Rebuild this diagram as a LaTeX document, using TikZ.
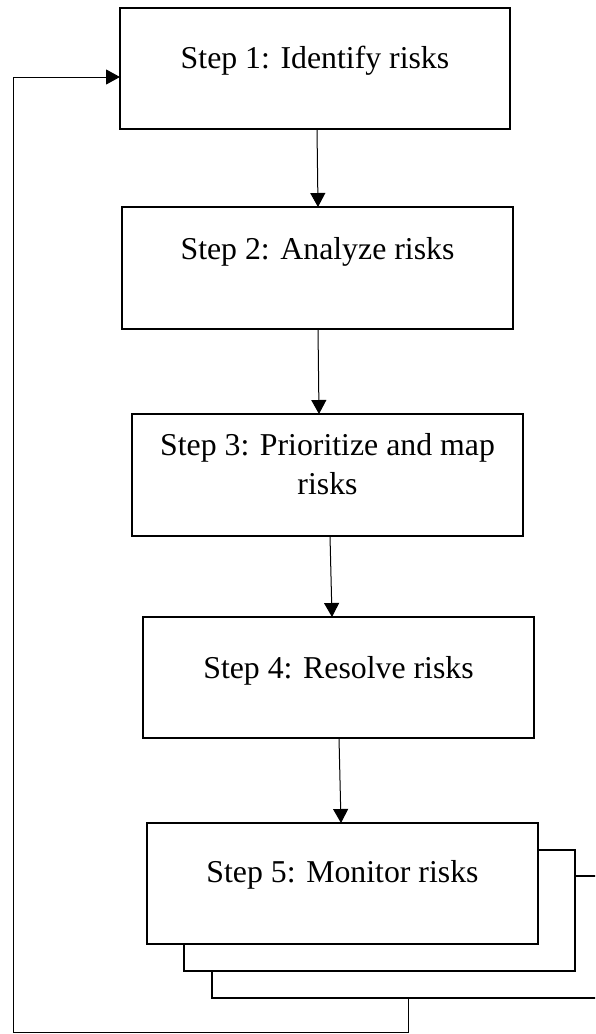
\documentclass[tikz,border=0pt]{standalone}
\usepackage{fontspec}
\setmainfont{Liberation Serif}
\usetikzlibrary{arrows.meta}
\begin{document}
\begin{tikzpicture}[x=1pt,y=-1pt,
  stepbox/.style={draw, line width=2.2pt, fill=white, inner sep=0pt, outer sep=0pt,
    minimum width=391pt, minimum height=121pt},
  shadowbox/.style={draw, line width=2pt, fill=white, inner sep=0pt, outer sep=0pt,
    minimum width=391pt, minimum height=121pt},
  steptext/.style={anchor=base, inner sep=0pt, font=\fontsize{31.8}{38}\selectfont},
  flow/.style={line width=1pt, -{Triangle[length=14pt,width=15pt]}},
  loopline/.style={line width=1pt}
]
\useasboundingbox (0,0) rectangle (595,1034);
\clip (0,0) rectangle (595,1034);
\fill[white] (0,0) rectangle (595,1034);

% main boxes
\node[stepbox, minimum width=390pt] (b1) at (315,68.5) {};
\node[stepbox, minimum height=122pt] (b2) at (317.5,268) {};
\node[stepbox, minimum height=122pt] (b3) at (327.5,475) {};
\node[stepbox] (b4) at (338.5,677.5) {};

% stacked boxes behind step 5
\node[shadowbox, minimum width=392pt, minimum height=122pt] (sB) at (408,937) {};
\node[shadowbox] (sA) at (379.5,910.5) {};
\node[stepbox] (b5) at (342.5,883.5) {};

% texts
\node[steptext] (t1) at (315,68) {Step 1: Identify risks};
\node[steptext] (t2) at (317.5,259) {Step 2: Analyze risks};
\node[steptext] (t3a) at (327.5,455) {Step 3: Prioritize and map};
\node[steptext] (t3b) at (327.5,494) {risks};
\node[steptext] (t4) at (338.5,678) {Step 4: Resolve risks};
\node[steptext] (t5) at (342.5,882) {Step 5: Monitor risks};

% connectors
\draw[flow] ([xshift=2pt]b1.south) -- ([xshift=0.5pt]b2.north);
\draw[flow] ([xshift=0.5pt]b2.south) -- ([xshift=-8.5pt]b3.north);
\draw[flow] ([xshift=2.5pt]b3.south) -- ([xshift=-6.5pt]b4.north);
\draw[flow] ([xshift=0.5pt]b4.south) -- ([xshift=-1.5pt]b5.north);

% feedback loop
\coordinate (lc) at (13,1032);
\draw[loopline] (sB.south) |- (lc);
\draw[flow] (lc) |- ([yshift=-8.5pt]b1.west);
\end{tikzpicture}
\end{document}
